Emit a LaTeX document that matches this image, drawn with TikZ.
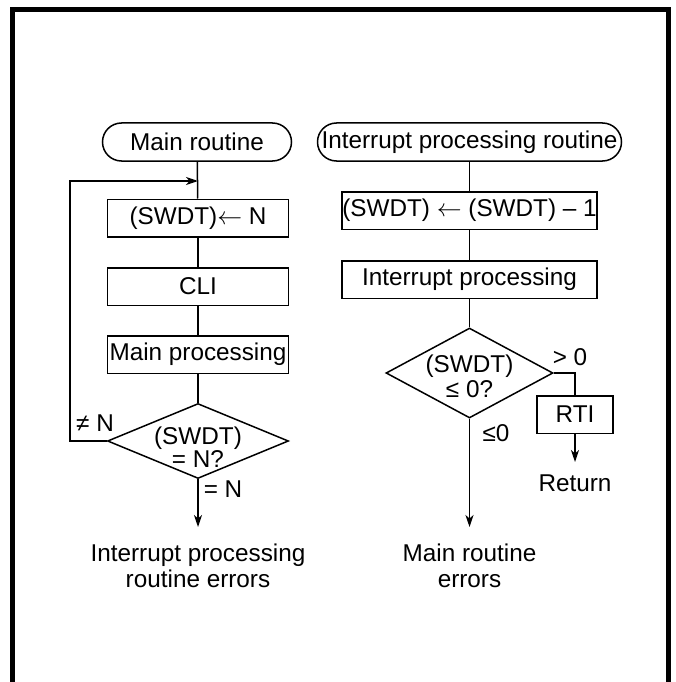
\documentclass[tikz,border=0pt]{standalone}
\usepackage{fontspec}
\setmainfont{Liberation Sans}
\usetikzlibrary{shapes.geometric,arrows.meta}
\begin{document}
\begin{tikzpicture}[x=1pt,y=-1pt,
  every node/.style={font=\fontsize{24.3}{26}\selectfont, inner sep=0pt},
  ln/.style={line width=1.5pt},
  arr/.style={line width=1.5pt,-{Stealth[length=12pt,width=8pt,inset=3.5pt]}},
  term/.style={draw, line width=1.5pt, rounded corners=19pt, minimum height=38pt},
  procbox/.style={draw, line width=1.5pt, minimum height=37.5pt},
  dec/.style={draw, diamond, line width=1.5pt},
  txt/.style={align=center}]
\useasboundingbox (0,0) rectangle (675,682);
\clip (0,0) rectangle (675,682);
% frame
\draw[line width=5.5pt] (12.5,700) -- (12.5,9.5) -- (668.5,9.5) -- (668.5,700);

% left column
\node[term, minimum width=189pt] (t1) at (197,142) {Main routine};
\node[procbox, minimum width=181pt] (b1) at (198,218) {(SWDT)$\leftarrow$ N};
\node[procbox, minimum width=181pt] (b2) at (198,286.5) {CLI};
\node[procbox, minimum width=181pt] (b3) at (198,354.5) {Main processing};
\node[dec, minimum width=181pt, minimum height=75pt] (d1) at (198,441) {};
\node[txt, font=\fontsize{24.3}{23}\selectfont] (d1t) at (198,447) {(SWDT)\\= N?};
\coordinate (lc) at (70,181);
\coordinate (j) at (198,181);
\coordinate (e1) at (198,527);
\node[txt] (o1) at (198,566) {Interrupt processing\\routine errors};
\node (ne) at (95,423) {≠ N};
\node (eq) at (223,489) {= N};

\draw[ln] (t1) -- (b1);
\draw[ln] (b1) -- (b2);
\draw[ln] (b2) -- (b3);
\draw[ln] (b3) -- (d1);
\draw[arr] (d1.west) -| (lc) -- (j);
\draw[arr] (d1.south) -- (e1);

% right column
\node[term, minimum width=304pt] (t2) at (469.5,142) {Interrupt processing routine};
\node[procbox, minimum width=255pt] (b4) at (469.5,210.5) {(SWDT) $\leftarrow$ (SWDT) -- 1};
\node[procbox, minimum width=255pt] (b5) at (469.5,279.5) {Interrupt processing};
\node[dec, minimum width=167pt, minimum height=90pt] (d2) at (469.5,373) {};
\node[txt, font=\fontsize{24.3}{25}\selectfont] (d2t) at (469.5,376) {(SWDT)\\≤ 0?};
\node[procbox, minimum width=76pt] (rti) at (575,414.5) {RTI};
\coordinate (rc) at (575,373);
\coordinate (rt) at (575,462);
\node (ret) at (575,483) {Return};
\coordinate (e2) at (469.5,527);
\node[txt] (o2) at (469.5,566) {Main routine\\errors};
\node (gt) at (570,357) {> 0};
\node (le) at (496,433) {≤0};

\draw[ln] (t2) -- (b4);
\draw[ln] (b4) -- (b5);
\draw[ln] (b5) -- (d2);
\draw[ln] (d2.east) -- (rc) -- (rti);
\draw[arr] (rti) -- (rt);
\draw[arr] (d2.south) -- (e2);
\end{tikzpicture}
\end{document}
